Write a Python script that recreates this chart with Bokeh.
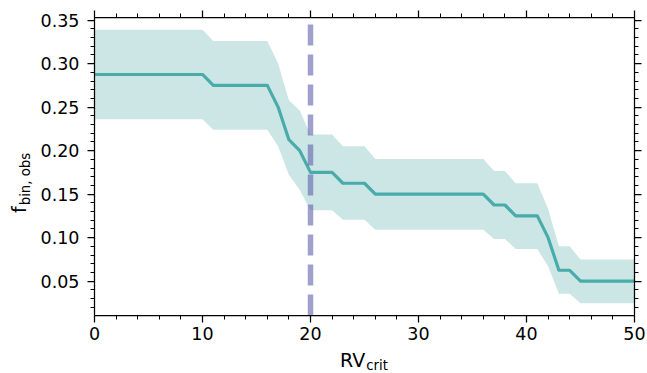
from bokeh.plotting import figure
from bokeh.models import (Range1d, LinearAxis, SingleIntervalTicker, PrintfTickFormatter, Div)
from bokeh.layouts import row, column
from bokeh.embed import file_html
from bokeh.resources import INLINE

# ---- data ----
rv_crit = [0, 1, 2, 3, 4, 5, 6, 7, 8, 9, 10, 11, 12, 13, 14, 15, 16, 17, 18, 19, 20,
           21, 22, 23, 24, 25, 26, 27, 28, 29, 30, 31, 32, 33, 34, 35, 36, 37, 38, 39, 40,
           41, 42, 43, 44, 45, 46, 47, 48, 49, 50]
f_bin = [0.2875] * 11 + [0.275] * 6 + [0.25, 0.2125, 0.2] + [0.175] * 3 + [0.1625] * 3 + \
        [0.15] * 11 + [0.1375] * 2 + [0.125] * 3 + [0.1] + [0.0625] * 2 + [0.05] * 6
f_upper = [0.339] * 11 + [0.326] * 6 + [0.300, 0.258, 0.246] + [0.2185] * 3 + [0.205] * 3 + \
          [0.1905] * 11 + [0.1765] * 2 + [0.1625] * 3 + [0.133] + [0.090] * 2 + [0.075] * 6
f_lower = [0.236] * 11 + [0.224] * 6 + [0.205, 0.172, 0.155] + [0.1315] * 3 + [0.1205] * 3 + \
          [0.109] * 11 + [0.0985] * 2 + [0.087] * 3 + [0.067] + [0.0355] * 2 + [0.0245] * 6
rv_cut = [20]
x_lim = [0, 50]
y_lim = [0.0105, 0.353]
x_label_main, x_label_sub = "RV", "crit"
y_label_main, y_label_sub = "f", "bin, obs"

FONT = "DejaVu Sans"
TICK_FS = "17.5px"

YDIV_W = 36
XDIV_H = 24
W, H = 647, 373

p = figure(width=W - YDIV_W, height=H - XDIV_H, output_backend="svg", toolbar_location=None,
           x_range=Range1d(x_lim[0], x_lim[1]), y_range=Range1d(y_lim[0], y_lim[1]),
           x_axis_location=None, y_axis_location=None,
           min_border_left=94 - YDIV_W, min_border_right=13, min_border_top=17,
           min_border_bottom=(H - XDIV_H) - 315, margin=0)
p.outline_line_color = None
p.grid.visible = False
p.background_fill_color = "white"
p.border_fill_color = "white"

def style_axis(ax, labels=True, interval=10, minors=5, fmt="%d", standoff=5):
    ax.ticker = SingleIntervalTicker(interval=interval, num_minor_ticks=minors)
    ax.formatter = PrintfTickFormatter(format=fmt)
    ax.axis_line_color = "black"
    ax.axis_line_width = 1.25
    ax.major_tick_line_color = "black"
    ax.major_tick_line_width = 1.25
    ax.minor_tick_line_color = "black"
    ax.minor_tick_line_width = 1
    ax.major_tick_out = 7
    ax.major_tick_in = 0
    ax.minor_tick_out = 4
    ax.minor_tick_in = 0
    if labels:
        ax.major_label_text_font = FONT
        ax.major_label_text_font_size = TICK_FS
        ax.major_label_text_color = "black"
        ax.major_label_standoff = standoff
    else:
        ax.major_label_text_font_size = "0px"
        ax.major_label_text_color = None
        ax.major_label_standoff = 0

xb = LinearAxis(); style_axis(xb, True, 10, 5, "%d", 4)
xt = LinearAxis(); style_axis(xt, False, 10, 5, "%d")
yl = LinearAxis(); style_axis(yl, True, 0.05, 5, "%.2f", 8)
yr = LinearAxis(); style_axis(yr, False, 0.05, 5, "%.2f")
p.add_layout(xb, "below")
p.add_layout(xt, "above")
p.add_layout(yl, "left")
p.add_layout(yr, "right")

# band and line
p.varea(x=rv_crit, y1=f_lower, y2=f_upper, fill_color="#cce6e6", fill_alpha=1.0)
p.line(x=rv_crit, y=f_bin, line_color="#4aabab", line_width=3.2, line_join="round")

# vertical dashed line at the chosen RV_crit
p.segment(x0=rv_cut, y0=[y_lim[0]] * len(rv_cut), x1=rv_cut, y1=[y_lim[1]] * len(rv_cut),
          line_color="#6161aa", line_alpha=0.6, line_width=5.5, line_dash="21 9",
          line_cap="butt")

# axis titles with subscripts, as real HTML text
base = f"font-family:'{FONT}';font-size:19px;line-height:19px;color:black;white-space:nowrap;"
sub = "font-size:13.3px;position:relative;"

xdiv = Div(width=W - YDIV_W, height=XDIV_H, margin=0,
           text=(f'<div style="{base}padding-left:{340 - YDIV_W}px;padding-top:1.6px;">'
                 f'{x_label_main}<span style="{sub}top:3.8px;margin-left:1px;">{x_label_sub}</span></div>'),
           styles={"overflow": "visible"})
ydiv = Div(width=YDIV_W, height=H, margin=0,
           text=(f'<div style="{base}width:max-content;margin-left:9.5px;margin-top:213px;'
                 f'transform:rotate(-90deg);transform-origin:0 0;">'
                 f'{y_label_main}<span style="{sub}top:4px;margin-left:1px;">{y_label_sub}</span></div>'),
           styles={"overflow": "visible"})

layout = row(ydiv, column(p, xdiv, spacing=0, margin=0), spacing=0, margin=0)

open("out.html", "w").write(file_html(layout, INLINE))
